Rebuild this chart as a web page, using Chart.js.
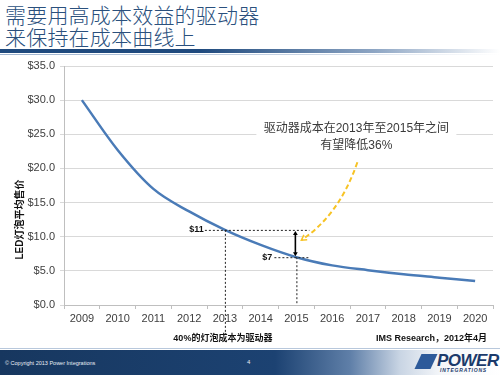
<!DOCTYPE html>
<html>
<head>
<meta charset="utf-8">
<script src="https://cdn.jsdelivr.net/npm/chart.js@4"></script>
<style>
html,body{margin:0;padding:0;background:#fff;}
#wrap{position:relative;width:500px;height:375px;overflow:hidden;background:#fff;}
#chartBox{position:absolute;left:0;top:0;width:500px;height:375px;}
.title{position:absolute;left:5px;top:3px;font-family:'Noto Sans CJK SC';font-weight:300;font-size:21px;line-height:22px;color:#2a507d;letter-spacing:0.2px;}
.rule1{position:absolute;left:0;top:49px;width:500px;height:4px;background:linear-gradient(to right,#1f4a7e 0%,#1f4a7e 40%,#8ea6c4 75%,rgba(255,255,255,0) 100%);}
.rule2{position:absolute;left:0;top:54px;width:500px;height:1px;background:linear-gradient(to right,#9fb4cf 0%,#c8d4e4 60%,rgba(255,255,255,0) 100%);}
.foot{position:absolute;left:0;top:350px;width:500px;height:25px;background:linear-gradient(to right,#17375f 0%,#1c4272 55%,#5f7fa8 70%,#c9d5e4 80%,#f4f6f9 88%,#ffffff 100%);}
.footline{position:absolute;left:0;top:348px;width:500px;height:1px;background:#b8c8dc;}
.copy{position:absolute;left:5px;top:360px;font-family:'Liberation Sans';font-size:5.5px;color:#e8eef6;}
.pg{position:absolute;left:247px;top:359px;font-family:'Liberation Sans';font-size:6px;color:#e8eef6;}
.logo{position:absolute;left:437px;top:351px;font-family:'Liberation Sans';font-weight:bold;font-style:italic;font-size:17px;color:#1b3a6b;letter-spacing:-0.5px;}
.logo2{position:absolute;left:440px;top:367px;font-family:'Liberation Sans';font-weight:bold;font-style:italic;font-size:5px;color:#1b3a6b;letter-spacing:0.8px;}
.icon{position:absolute;left:418px;top:354px;width:16px;height:15px;background:#2d5a9a;transform:skewX(-25deg);}
</style>
</head>
<body>
<div id="wrap">
  <div class="title">需要用高成本效益的驱动器<br>来保持在成本曲线上</div>
  <div class="rule1"></div>
  <div class="rule2"></div>
  <div id="chartBox"><canvas id="c"></canvas></div>
  <div class="footline"></div>
  <div class="foot"></div>
  <div class="copy">© Copyright 2013 Power Integrations</div>
  <div class="pg">4</div>
  <div class="icon"></div>
  <div class="logo">POWER</div>
  <div class="logo2">INTEGRATIONS</div>
</div>
<script>
const years = ['2009','2010','2011','2012','2013','2014','2015','2016','2017','2018','2019','2020'];
const avgPrice = [30.0, 22.7, 17.0, 13.7, 11.0, 8.8, 7.0, 5.8, 5.1, 4.5, 4.0, 3.5];
const yTicksMax = 35;
const yTicksStep = 5;
const yAxisTitle = 'LED灯泡平均售价';
const markLabels = ['$11', '$7'];
const markIndex = [4, 6];
const noteLines = ['驱动器成本在2013年至2015年之间', '有望降低36%'];
const footLeft = '40%的灯泡成本为驱动器';
const footRight = 'IMS Research，2012年4月';

const latin = "'Liberation Sans','Noto Sans CJK SC'";

function arrowHead(ctx, x, y, dx, dy, size, filled) {
  const len = Math.hypot(dx, dy); const ux = dx/len, uy = dy/len;
  const px = -uy, py = ux;
  ctx.beginPath();
  ctx.moveTo(x - ux*size + px*size*0.6, y - uy*size + py*size*0.6);
  ctx.lineTo(x, y);
  ctx.lineTo(x - ux*size - px*size*0.6, y - uy*size - py*size*0.6);
  if (filled) { ctx.closePath(); ctx.fill(); } else { ctx.stroke(); }
}

const annot = {
  id: 'annot',
  beforeDatasetsDraw(chart) {
    const ctx = chart.ctx, xs = chart.scales.x, ys = chart.scales.y;
    const xB = xs.getPixelForValue(markIndex[1]);
    const y25 = ys.getPixelForValue(25);
    ctx.save();
    ctx.fillStyle = '#fff';
    ctx.fillRect(xB - 40, y25 - 15, 200, 34);
    ctx.restore();
  },
  afterDatasetsDraw(chart) {
    const ctx = chart.ctx, xs = chart.scales.x, ys = chart.scales.y;
    const xA = xs.getPixelForValue(markIndex[0]);
    const xB = xs.getPixelForValue(markIndex[1]);
    const yA = ys.getPixelForValue(avgPrice[markIndex[0]]);
    const yB = ys.getPixelForValue(avgPrice[markIndex[1]]);
    ctx.save();
    ctx.strokeStyle = '#222'; ctx.lineWidth = 1; ctx.setLineDash([2,2]);
    ctx.beginPath();
    ctx.moveTo(xA - 20, yA + 0.5); ctx.lineTo(xB + 13, yA + 0.5);
    ctx.moveTo(xA + 0.5, yA); ctx.lineTo(xA + 0.5, ys.bottom + 30);
    ctx.moveTo(xB - 22, yB + 0.5); ctx.lineTo(xB + 14, yB + 0.5);
    ctx.moveTo(xB + 0.5, yB); ctx.lineTo(xB + 0.5, ys.bottom);
    ctx.stroke();
    ctx.setLineDash([]);
    ctx.fillStyle = '#111'; ctx.font = 'bold 9px ' + latin;
    ctx.textAlign = 'right'; ctx.textBaseline = 'middle';
    ctx.fillText(markLabels[0], xA - 21, yA);
    ctx.fillText(markLabels[1], xB - 24, yB);
    ctx.strokeStyle = '#000'; ctx.fillStyle = '#000'; ctx.lineWidth = 1.6;
    ctx.beginPath(); ctx.moveTo(xB - 1, yA + 3); ctx.lineTo(xB - 1, yB - 3); ctx.stroke();
    arrowHead(ctx, xB - 1, yA + 1, 0, -1, 4, true);
    arrowHead(ctx, xB - 1, yB - 1, 0, 1, 4, true);
    const p0 = {x: xB + 61, y: ys.getPixelForValue(20.9)};
    const c1 = {x: xB + 43, y: ys.getPixelForValue(13.2)};
    const p2 = {x: xB + 5, y: ys.getPixelForValue(9.5)};
    ctx.strokeStyle = '#f7c325'; ctx.lineWidth = 2; ctx.setLineDash([5,3]);
    ctx.beginPath(); ctx.moveTo(p0.x, p0.y); ctx.quadraticCurveTo(c1.x, c1.y, p2.x, p2.y); ctx.stroke();
    ctx.setLineDash([]); ctx.lineWidth = 1.5;
    arrowHead(ctx, p2.x, p2.y, p2.x - c1.x, p2.y - c1.y, 5, false);
    const y25 = ys.getPixelForValue(25);
    ctx.fillStyle = '#3a3a3a'; ctx.textAlign = 'center'; ctx.textBaseline = 'middle';
    ctx.font = '12px ' + latin;
    ctx.fillText(noteLines[0], xB + 60, y25 - 6);
    ctx.fillText(noteLines[1], xB + 60, y25 + 11);
    ctx.save();
    ctx.translate(20, (ys.top + ys.bottom) / 2 + 34);
    ctx.rotate(-Math.PI/2);
    ctx.font = 'bold 10px ' + latin; ctx.fillStyle = '#111';
    ctx.fillText(yAxisTitle, 0, 0);
    ctx.restore();
    ctx.font = 'bold 9px ' + latin; ctx.fillStyle = '#111';
    ctx.textAlign = 'center';
    ctx.fillText(footLeft, xA - 2, ys.bottom + 34);
    ctx.textAlign = 'right';
    ctx.fillText(footRight, xs.right - 6, ys.bottom + 34);
    ctx.restore();
  }
};

new Chart(document.getElementById('c'), {
  type: 'line',
  data: {
    labels: years,
    datasets: [{
      data: avgPrice,
      borderColor: '#4a7bb7',
      borderWidth: 2.5,
      pointRadius: 0,
      tension: 0.4,
      cubicInterpolationMode: 'monotone',
      fill: false
    }]
  },
  options: {
    responsive: true,
    maintainAspectRatio: false,
    animation: false,
    devicePixelRatio: 1,
    layout: { padding: { top: 66, right: 7, left: 0, bottom: 0 } },
    plugins: { legend: { display: false }, tooltip: { enabled: false } },
    scales: {
      x: {
        type: 'category',
        offset: true,
        grid: { drawOnChartArea: false, drawTicks: true, tickLength: 4, color: '#bfbfbf', offset: true },
        border: { color: '#bfbfbf' },
        ticks: { color: '#404040', font: { family: 'Liberation Sans', size: 11 }, padding: 3, maxRotation: 0 },
        afterFit(s) { s.height = 70; }
      },
      y: {
        min: 0, max: yTicksMax,
        grid: { color: '#d9d9d9', tickLength: 4 },
        border: { color: '#bfbfbf' },
        ticks: { stepSize: yTicksStep, color: '#404040', padding: 5,
          font: { family: 'Liberation Sans', size: 11 },
          callback: v => '$' + Number(v).toFixed(1) },
        afterFit(s) { s.width = 64; }
      }
    }
  },
  plugins: [annot]
});
</script>
</body>
</html>
